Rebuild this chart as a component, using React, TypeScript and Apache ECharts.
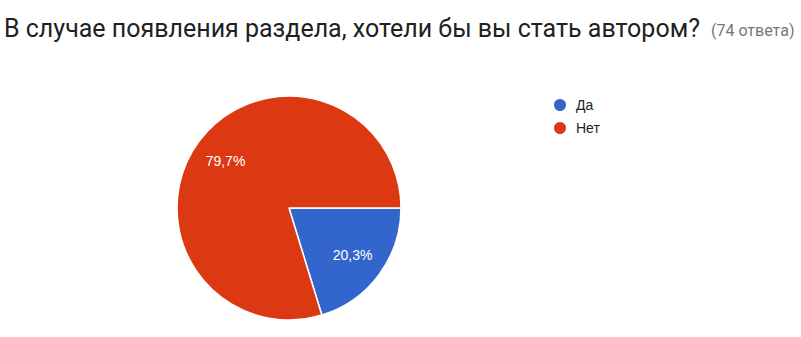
import React, { useEffect, useRef } from "react";
import * as echarts from "echarts";

const titleText = "В случае появления раздела, хотели бы вы стать автором?";
const countText = "(74 ответа)";
const categories = ["Да", "Нет"];
const values = [15, 59];
const colors = ["#3366CC", "#DC3912"];

export default function App() {
  const ref = useRef<HTMLDivElement>(null);
  useEffect(() => {
    document.body.style.margin = "0";
    const chart = echarts.init(ref.current!, null, { renderer: "svg" });
    const total = values.reduce((a, b) => a + b, 0);
    const data = categories.map((name, i) => ({
      name,
      value: values[i],
      itemStyle: { color: colors[i] },
    }));
    chart.setOption({
      animation: false,
      backgroundColor: "#ffffff",
      title: {
        left: -1,
        top: 11,
        text: `{a|${titleText}}{b|${countText}}`,
        textStyle: {
          rich: {
            a: { fontFamily: "Roboto", fontSize: 25, color: "#212121", fontWeight: "normal" },
            b: { fontFamily: "Roboto", fontSize: 16, color: "#757575", fontWeight: "normal", padding: [3, 0, 0, 11] },
          },
        },
      },
      legend: {
        orient: "vertical",
        left: 547,
        top: 92,
        icon: "circle",
        itemWidth: 14,
        itemHeight: 14,
        itemGap: 7,
        data: categories.map((name, i) => ({ name, itemStyle: { color: colors[i] } })),
        textStyle: { fontFamily: "Arial, Liberation Sans", fontSize: 14, color: "#222222", padding: [0, 0, 0, 4], lineHeight: 14 },
      },
      series: [
        {
          type: "pie",
          center: [289, 208],
          radius: [0, 112],
          startAngle: 0,
          clockwise: true,
          silent: true,
          label: { show: false },
          labelLine: { show: false },
          itemStyle: { borderColor: "#ffffff", borderWidth: 1.5 },
          data,
        },
        {
          type: "pie",
          center: [289, 208],
          radius: [40, 112],
          startAngle: 0,
          clockwise: true,
          silent: true,
          itemStyle: { color: "transparent", borderWidth: 0 },
          label: {
            show: true,
            position: "inside",
            color: "#ffffff",
            fontFamily: "Arial, Liberation Sans",
            fontSize: 14,
            formatter: (p: any) => ((p.value / total) * 100).toFixed(1).replace(".", ",") + "%",
          },
          labelLine: { show: false },
          data: categories.map((name, i) => ({ name, value: values[i] })),
        },
      ],
    });
    return () => chart.dispose();
  }, []);
  return <div ref={ref} style={{ width: 801, height: 337 }} />;
}
